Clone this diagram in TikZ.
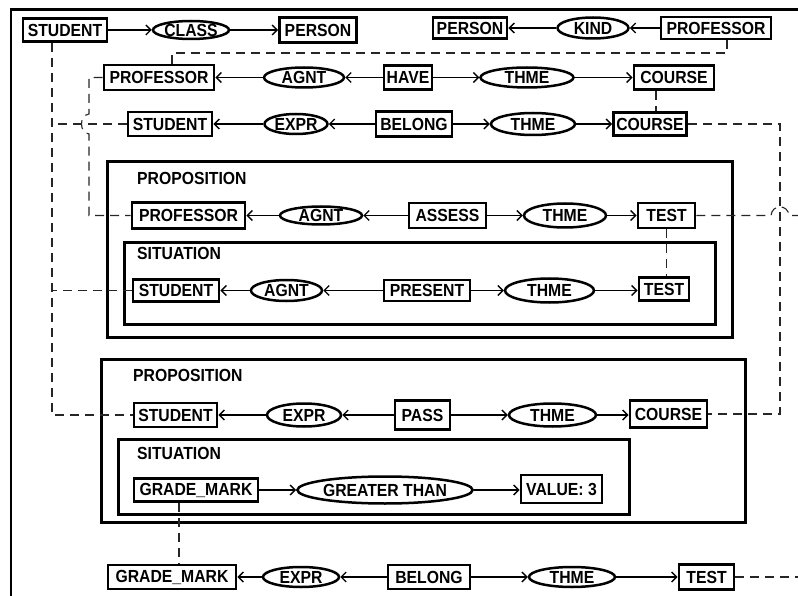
\documentclass[tikz,border=0pt]{standalone}
\usepackage{fontspec}
\setmainfont{Liberation Sans}[FakeStretch=0.9]
\usetikzlibrary{shapes.geometric,arrows.meta}
\newcommand\cgfont{\fontsize{17.5}{17.5}\selectfont\bfseries}
\begin{document}
\begin{tikzpicture}[x=1pt,y=-1pt,
  cbox/.style={draw,line width=2.8pt,inner sep=0pt,font=\cgfont},
  rel/.style={ellipse,draw,line width=2.5pt,inner sep=0pt,font=\cgfont},
  ctx/.style={draw,line width=3pt},
  ctxlabel/.style={anchor=west,inner sep=0pt,font=\cgfont},
  conn/.style={line width=1.4pt,-{Straight Barb[length=5pt,width=10pt,line width=1.4pt]}},
  coref/.style={line width=1.1pt,black!85,dash pattern=on 9pt off 6pt},
  frame/.style={line width=2.5pt}]
\useasboundingbox (0,0) rectangle (798,596);
\draw[frame] (798,9.5) -- (11,9.5) -- (11,596);

% row 1
\node[cbox,minimum width=84pt,minimum height=23pt] (s1) at (65,30) {STUDENT};
\node[rel,minimum width=76pt,minimum height=18pt] (cls) at (191,30) {CLASS};
\node[cbox,minimum width=77pt,minimum height=25pt] (p1) at (318,30) {PERSON};
\node[cbox,minimum width=74pt,minimum height=21pt] (p2) at (470,28) {PERSON};
\node[rel,minimum width=71pt,minimum height=21pt] (kind) at (593,28) {KIND};
\node[cbox,minimum width=110pt,minimum height=22pt] (pr1) at (716,28) {PROFESSOR};
\draw[conn] (s1) -- (cls);
\draw[conn] (cls) -- (p1);
\draw[conn] (pr1) -- (kind);
\draw[conn] (kind) -- (p2);

% row 2
\node[cbox,minimum width=110pt,minimum height=25pt] (pr2) at (159,77.5) {PROFESSOR};
\node[rel,minimum width=80pt,minimum height=20pt] (ag2) at (304,77.5) {AGNT};
\node[cbox,minimum width=48pt,minimum height=24pt] (have) at (408,77.5) {HAVE};
\node[rel,minimum width=93pt,minimum height=20pt] (th2) at (527,77.5) {THME};
\node[cbox,minimum width=80pt,minimum height=24pt] (c2) at (674,77.5) {COURSE};
\draw[conn] (have) -- (ag2);
\draw[conn] (ag2) -- (pr2);
\draw[conn] (have) -- (th2);
\draw[conn] (th2) -- (c2);

% row 3
\node[cbox,minimum width=84pt,minimum height=24pt] (s3) at (170,124) {STUDENT};
\node[rel,minimum width=63pt,minimum height=20pt] (ex3) at (296,124) {EXPR};
\node[cbox,minimum width=76pt,minimum height=25pt] (bel3) at (414,124) {BELONG};
\node[rel,minimum width=84pt,minimum height=22pt] (th3) at (533,124) {THME};
\node[cbox,minimum width=73pt,minimum height=23pt] (c3) at (650,124) {COURSE};
\draw[conn] (bel3) -- (ex3);
\draw[conn] (ex3) -- (s3);
\draw[conn] (bel3) -- (th3);
\draw[conn] (th3) -- (c3);

% proposition 1
\draw[ctx] (107,162) rectangle (732,337);
\node[ctxlabel] (lp1) at (137,178) {PROPOSITION};
\node[cbox,minimum width=113pt,minimum height=26pt] (pa) at (188.5,215.5) {PROFESSOR};
\node[rel,minimum width=82pt,minimum height=18pt] (ag4) at (321,215.5) {AGNT};
\node[cbox,minimum width=77pt,minimum height=25pt] (as) at (447.5,215.5) {ASSESS};
\node[rel,minimum width=82pt,minimum height=24pt] (th4) at (565,215.5) {THME};
\node[cbox,minimum width=57pt,minimum height=25pt] (ta) at (666.5,215.5) {TEST};
\draw[conn] (as) -- (ag4);
\draw[conn] (ag4) -- (pa);
\draw[conn] (as) -- (th4);
\draw[conn] (th4) -- (ta);

% situation 1
\draw[ctx] (124,243) rectangle (715,324);
\node[ctxlabel] (ls1) at (137,253) {SITUATION};
\node[cbox,minimum width=86pt,minimum height=22pt] (ss) at (176,290.5) {STUDENT};
\node[rel,minimum width=71pt,minimum height=21pt] (ag5) at (286.5,290.5) {AGNT};
\node[cbox,minimum width=86pt,minimum height=21pt] (pres) at (427,290.5) {PRESENT};
\node[rel,minimum width=89pt,minimum height=24pt] (th5) at (549.5,290.5) {THME};
\node[cbox,minimum width=50pt,minimum height=23pt] (tp) at (664,289) {TEST};
\draw[conn] (pres) -- (ag5);
\draw[conn] (ag5) -- (ss);
\draw[conn] (pres) -- (th5);
\draw[conn] (th5) -- (tp.west |- th5);

% proposition 2
\draw[ctx] (101,359) rectangle (745,522);
\node[ctxlabel] (lp2) at (133,375) {PROPOSITION};
\node[cbox,minimum width=83pt,minimum height=24pt] (sp) at (175.5,415) {STUDENT};
\node[rel,minimum width=74pt,minimum height=23pt] (ex6) at (304,415) {EXPR};
\node[cbox,minimum width=55pt,minimum height=29pt] (pass) at (422.5,415) {PASS};
\node[rel,minimum width=87pt,minimum height=23pt] (th6) at (552.5,415) {THME};
\node[cbox,minimum width=77pt,minimum height=27pt] (cp) at (668.5,414) {COURSE};
\draw[conn] (pass) -- (ex6);
\draw[conn] (ex6) -- (sp);
\draw[conn] (pass) -- (th6);
\draw[conn] (th6) -- (cp.west |- th6);

% situation 2
\draw[ctx] (118,439) rectangle (629,514);
\node[ctxlabel] (ls2) at (137,453) {SITUATION};
\node[cbox,minimum width=124pt,minimum height=23pt] (g1) at (196,490) {GRADE\_MARK};
\node[rel,minimum width=162pt,minimum height=27pt] (gt) at (385,490) {GREATER THAN};
\node[cbox,minimum width=81pt,minimum height=28pt] (val) at (561.5,489) {VALUE: 3};
\draw[conn] (g1) -- (gt);
\draw[conn] (gt) -- (val.west |- gt);

% bottom row
\node[cbox,minimum width=128pt,minimum height=24pt] (g2) at (172,577) {GRADE\_MARK};
\node[rel,minimum width=76pt,minimum height=20pt] (ex7) at (301,577) {EXPR};
\node[cbox,minimum width=82pt,minimum height=24pt] (bel7) at (429,577) {BELONG};
\node[rel,minimum width=86pt,minimum height=20pt] (th7) at (572,577) {THME};
\node[cbox,minimum width=55pt,minimum height=25pt] (tb) at (706.5,577) {TEST};
\draw[conn] (bel7) -- (ex7);
\draw[conn] (ex7) -- (g2);
\draw[conn] (bel7) -- (th7);
\draw[conn] (th7) -- (tb);

% coreference links
\coordinate (L) at (52,300);
\coordinate (P) at (89,300);
\coordinate (T) at (172,53);
\coordinate (R) at (780,300);
\coordinate (E1) at (800,215.5);
\coordinate (E2) at (800,577);
\draw[coref] ([xshift=-13pt]s1.south) |- (sp.west);
\draw[coref] (s3.west) -- (s3.west -| L);
\draw[coref] (ss.west) -- (ss.west -| L);
\draw[coref] (pr2.west) -- (pr2.west -| P) -- (89,114)
   .. controls (79,115) and (79,133) .. (89,134) -- (pa.west -| P) -- (pa.west);
\draw[coref] ([xshift=11pt]pr1.south) |- (T) -- (T |- pr2.north);
\draw[coref] ([xshift=-18pt]c2.south) -- ([xshift=-18pt]c2.south |- c3.north);
\draw[coref] (c3.east) -| (R) |- (cp.east);
\draw[coref] (ta.east) -- (771,215.5) .. controls (772,204) and (788,204) .. (789,215.5) -- (E1);
\draw[coref] (ta.south) -- (ta.south |- tp.north);
\draw[coref] ([xshift=-17pt]g1.south) -- ([xshift=-17pt]g1.south |- g2.north);
\draw[coref] (tb.east) -- (E2);
\end{tikzpicture}
\end{document}
